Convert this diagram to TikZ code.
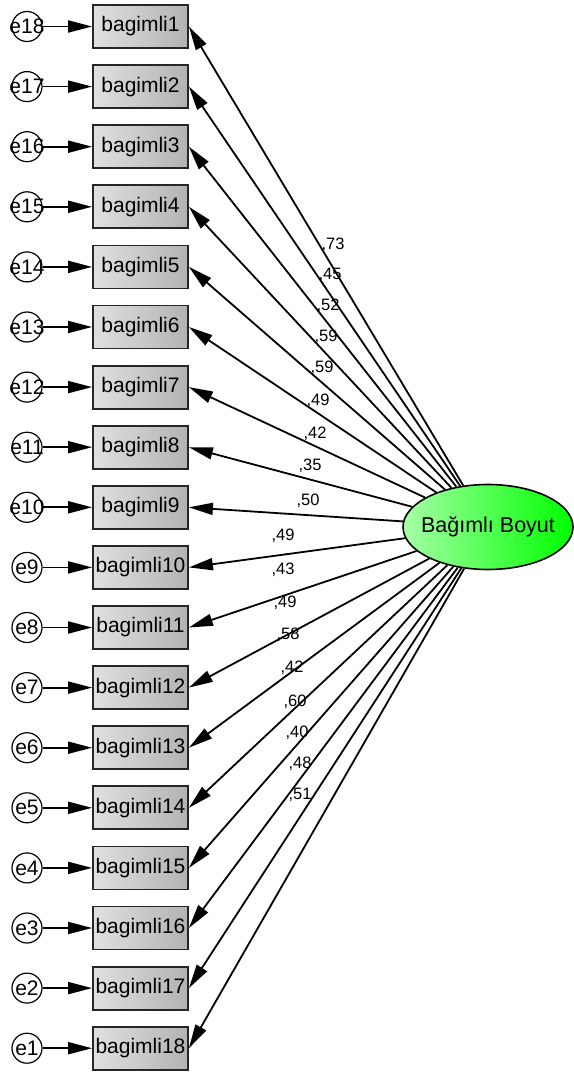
\documentclass[tikz,border=0pt]{standalone}
\usepackage{fontspec}
\setmainfont{Liberation Sans}
\usetikzlibrary{shapes.geometric,arrows.meta}
\begin{document}
\begin{tikzpicture}[x=1pt,y=-1pt,
  obs/.style={draw=black!85, line width=1.8pt, left color=black!12, right color=black!30,
    minimum width=95pt, minimum height=43pt, inner sep=0pt, font=\fontsize{21}{24}\selectfont},
  err/.style={circle, draw, line width=1.2pt, fill=white, minimum size=30pt, inner sep=0pt},
  errtxt/.style={inner sep=0pt, font=\fontsize{21}{24}\selectfont},
  lat/.style={ellipse, draw, line width=1.6pt, left color=green!35, right color=green,
    minimum width=170pt, minimum height=85pt, inner sep=0pt},
  lattxt/.style={inner sep=0pt, font=\fontsize{21.5}{24}\selectfont},
  arr/.style={line width=1.8pt, -{Triangle[length=24pt,width=12pt]}},
  lbl/.style={font=\fontsize{16.5}{18}\selectfont, inner sep=0pt}]
\useasboundingbox (0,0) rectangle (573,1075);
\node[lat] (lat) at (488,527) {};
\node[lattxt] (latt) at (488,527) {Bağımlı Boyut};
\foreach \i [evaluate=\i as \y using 26.5+60.1*(\i-1), evaluate=\i as \e using int(19-\i)] in {1,...,18} {
  \node[obs] (b\i) at (140.5,\y) {bagimli\i};
  \node[err] (e\e) at (27,\y) {};
  \node[errtxt] (e\e t) at (27,\y) {e\e};
  \draw[arr] (e\e) -- (b\i);
  \draw[arr] (lat) -- (b\i.east);
}
\foreach \k/\v/\lx/\ly in {1/73/333/245, 2/45/330/275, 3/52/328/306, 4/59/326/337,
  5/59/322/368, 6/49/318/401, 7/42/315/434, 8/35/310/466, 9/50/308/501,
  10/49/283/536, 11/43/283/570, 12/49/285/603, 13/58/288/635, 14/42/292/668,
  15/60/295/702, 16/40/297/733, 17/48/300/764, 18/51/300/795} {
  \node[lbl] (l\k) at (\lx,\ly) {,\v};
}
\end{tikzpicture}
\end{document}
